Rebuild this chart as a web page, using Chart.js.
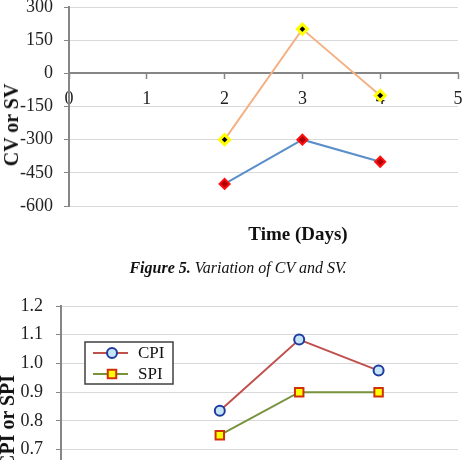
<!DOCTYPE html>
<html>
<head>
<meta charset="utf-8">
<script src="https://cdn.jsdelivr.net/npm/chart.js@4.4.1/dist/chart.umd.min.js"></script>
<style>
  html, body { margin: 0; padding: 0; background: #fff; }
  body { width: 466px; height: 460px; overflow: hidden; position: relative; font-family: 'Liberation Serif', 'Times New Roman', serif; }
  canvas { position: absolute; left: 0; }
  .lbl { position: absolute; white-space: nowrap; color: #111; line-height: 1; }
  .ytitle { transform: translate(-50%, -50%) rotate(-90deg); font-weight: bold; font-size: 20px; }
</style>
</head>
<body>
<canvas id="cvsvChart" width="466" height="270" style="top:-20px"></canvas>
<div class="lbl ytitle" style="left:11px; top:125px;">CV or SV</div>
<div class="lbl" style="left:298px; top:233px; transform:translate(-50%,-50%); font-weight:bold; font-size:19px;">Time (Days)</div>
<div class="lbl" style="left:238px; top:268px; transform:translate(-50%,-50%); font-size:16px; font-style:italic;"><b>Figure 5.</b> Variation of CV and SV.</div>

<canvas id="indexChart" width="466" height="280" style="top:280px"></canvas>
<div class="lbl ytitle" style="left:7px; top:422px;">CPI or SPI</div>

<script>
// data
const days = [2, 3, 4];
const cvValues = [-500, -300, -400];
const svValues = [-300, 200, -100];
const cpiValues = [0.835, 1.083, 0.975];
const spiValues = [0.75, 0.9, 0.9];

const timeTicks = [0, 1, 2, 3, 4, 5];
const cvsvTicks = [-600, -450, -300, -150, 0, 150, 300];
const indexTicks = [0.5, 0.6, 0.7, 0.8, 0.9, 1.0, 1.1, 1.2];

Chart.defaults.font.family = "'Liberation Serif', 'Times New Roman', serif";
Chart.defaults.font.size = 18;
Chart.defaults.color = '#222';

const axisGrey = '#868686';
const gridGrey = '#d9d9d9';

function pts(xs, ys) {
	return xs.map((x, i) => ({ x: x, y: ys[i] }));
}

// no extra side padding from the end labels, plot runs to the edge like the original
function noSidePad(s) {
	s.paddingLeft = 0;
	s.paddingRight = 0;
}

// Figure 5 - CV and SV
new Chart(document.getElementById('cvsvChart'), {
	type: 'line',
	data: {
		datasets: [{
			label: 'SV',
			data: pts(days, svValues),
			borderColor: '#f4b183',
			borderWidth: 2,
			pointStyle: 'rectRot',
			pointRadius: 5,
			pointBackgroundColor: '#000',
			pointBorderColor: '#ffff00',
			pointBorderWidth: 3
		}, {
			label: 'CV',
			data: pts(days, cvValues),
			borderColor: '#5b8fca',
			borderWidth: 2,
			pointStyle: 'rectRot',
			pointRadius: 5,
			pointBackgroundColor: '#b00000',
			pointBorderColor: '#ff1010',
			pointBorderWidth: 2
		}]
	},
	options: {
		responsive: false,
		animation: false,
		layout: { padding: { left: 0, right: 4, top: 27, bottom: 44 } },
		plugins: { legend: { display: false }, tooltip: { enabled: false } },
		scales: {
			x: {
				type: 'linear',
				min: timeTicks[0],
				max: timeTicks[timeTicks.length - 1],
				position: { y: 0 },
				ticks: { stepSize: 1, padding: 10 },
				grid: { drawOnChartArea: false, tickLength: 5, tickColor: axisGrey, tickWidth: 1.5 },
				border: { color: axisGrey, width: 2 },
				afterFit: noSidePad
			},
			y: {
				min: cvsvTicks[0],
				max: cvsvTicks[cvsvTicks.length - 1],
				ticks: { stepSize: 150, padding: 11 },
				grid: {
					color: ctx => ctx.tick && ctx.tick.value === 0 ? axisGrey : gridGrey,
					tickLength: 5,
					tickColor: axisGrey
				},
				border: { color: axisGrey, width: 2 },
				afterFit: s => { s.width = 69; }
			}
		}
	}
});

// legend box drawn inside the plot, line + marker like the original
const boxLegend = {
	id: 'boxLegend',
	afterDraw(chart) {
		const ctx = chart.ctx;
		const x0 = 85, y0 = 62, w = 88, h = 42;
		ctx.save();
		ctx.fillStyle = '#fff';
		ctx.fillRect(x0, y0, w, h);
		ctx.strokeStyle = '#404040';
		ctx.lineWidth = 1.5;
		ctx.strokeRect(x0, y0, w, h);
		chart.data.datasets.forEach((ds, i) => {
			const cy = y0 + 11 + i * 21;
			ctx.strokeStyle = ds.borderColor;
			ctx.lineWidth = ds.borderWidth;
			ctx.beginPath();
			ctx.moveTo(x0 + 8, cy);
			ctx.lineTo(x0 + 43, cy);
			ctx.stroke();
			ctx.fillStyle = ds.pointBackgroundColor;
			ctx.strokeStyle = ds.pointBorderColor;
			ctx.lineWidth = ds.pointBorderWidth;
			Chart.helpers.drawPoint(ctx, {
				pointStyle: ds.pointStyle,
				radius: ds.pointRadius,
				rotation: 0,
				borderWidth: ds.pointBorderWidth
			}, x0 + 27, cy);
			ctx.fillStyle = '#111';
			ctx.font = "17px 'Liberation Serif', serif";
			ctx.textBaseline = 'middle';
			ctx.textAlign = 'left';
			ctx.fillText(ds.label, x0 + 53, cy + 1);
		});
		ctx.restore();
	}
};

// CPI and SPI
new Chart(document.getElementById('indexChart'), {
	type: 'line',
	data: {
		datasets: [{
			label: 'CPI',
			data: pts(days, cpiValues),
			borderColor: '#c0504d',
			borderWidth: 2,
			pointStyle: 'circle',
			pointRadius: 5,
			pointBackgroundColor: '#c6e6f7',
			pointBorderColor: '#1f3aa0',
			pointBorderWidth: 2
		}, {
			label: 'SPI',
			data: pts(days, spiValues),
			borderColor: '#77933c',
			borderWidth: 2,
			pointStyle: 'rect',
			pointRadius: 6,
			pointBackgroundColor: '#ffff00',
			pointBorderColor: '#d0300a',
			pointBorderWidth: 2
		}]
	},
	plugins: [boxLegend],
	options: {
		responsive: false,
		animation: false,
		layout: { padding: { left: 0, right: 4, top: 26, bottom: 23 } },
		plugins: { legend: { display: false }, tooltip: { enabled: false } },
		scales: {
			x: {
				type: 'linear',
				min: timeTicks[0],
				max: timeTicks[timeTicks.length - 1],
				ticks: { stepSize: 1, padding: 8 },
				grid: { drawOnChartArea: false, tickLength: 5, tickColor: axisGrey },
				border: { color: axisGrey, width: 2 },
				afterFit: s => { s.height = 30; noSidePad(s); }
			},
			y: {
				min: indexTicks[0],
				max: indexTicks[indexTicks.length - 1],
				ticks: { stepSize: 0.1, padding: 13, callback: v => v.toFixed(1) },
				grid: { color: gridGrey, tickLength: 5, tickColor: axisGrey },
				border: { color: axisGrey, width: 2 },
				afterFit: s => { s.width = 61; }
			}
		}
	}
});
</script>
</body>
</html>
